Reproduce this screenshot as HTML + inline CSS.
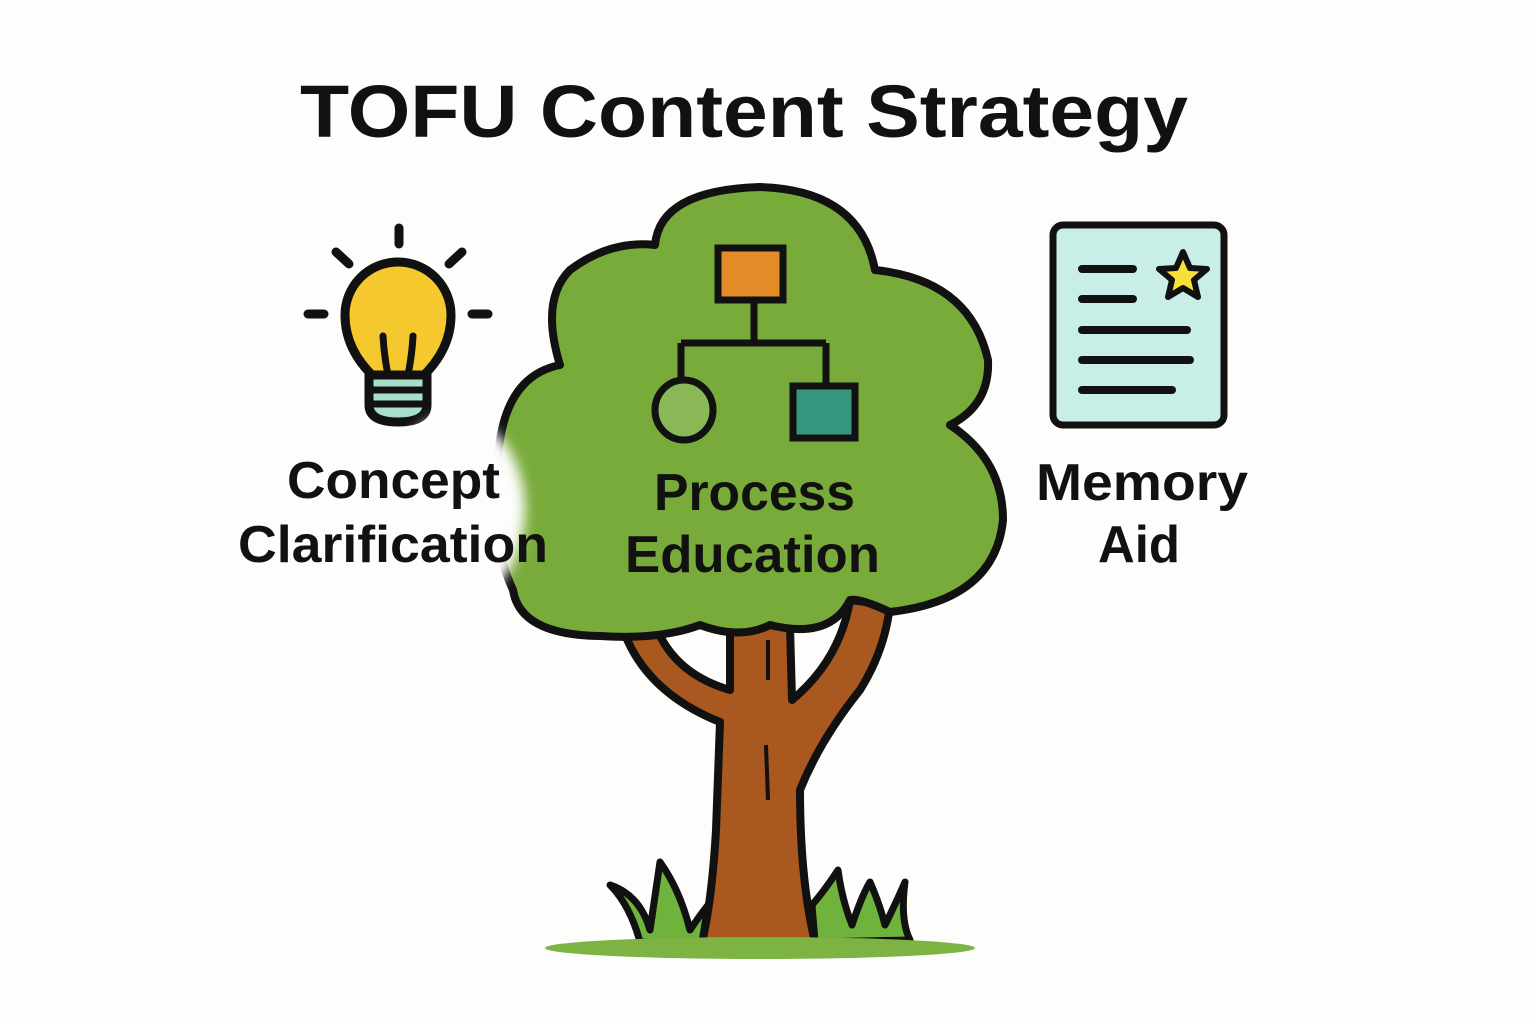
<!DOCTYPE html>
<html><head><meta charset="utf-8"><style>
html,body{margin:0;padding:0;background:#fdfdfb;}
svg{display:block;font-family:"Liberation Sans",sans-serif;font-weight:bold;}
</style></head><body>
<svg width="1536" height="1024" viewBox="0 0 1536 1024">
<defs><filter id="b"><feGaussianBlur stdDeviation="6"/></filter></defs>
<rect width="1536" height="1024" fill="#fdfdfb"/>
<text x="300" y="137" font-size="74" textLength="888" lengthAdjust="spacingAndGlyphs" fill="#111">TOFU Content Strategy</text>

<!-- bulb -->
<g stroke="#111" stroke-width="9" stroke-linecap="round" fill="none">
<line x1="399" y1="228" x2="399" y2="244"/>
<line x1="336" y1="252" x2="349" y2="264"/>
<line x1="462" y1="252" x2="449" y2="264"/>
<line x1="308" y1="314" x2="324" y2="314"/>
<line x1="472" y1="314" x2="488" y2="314"/>
</g>
<path d="M375,378 Q345,350 345,315 A53,53 0 1 1 451,315 Q451,350 421,378 Z" fill="#f5c82e" stroke="#111" stroke-width="9" stroke-linejoin="round"/>
<path d="M369,375 L427,375 L427,405 Q427,422 398,422 Q369,422 369,405 Z" fill="#a8dfc8" stroke="#111" stroke-width="9" stroke-linejoin="round"/>
<g stroke="#111" stroke-width="7" stroke-linecap="round" fill="none">
<line x1="372" y1="390" x2="424" y2="390"/><line x1="372" y1="404" x2="424" y2="404"/>
<path d="M388,375 Q384,355 383,336"/><path d="M408,375 Q412,355 413,336"/>
</g>

<!-- trunk -->
<path d="M620,620 Q640,690 720,722 L716,830 Q712,900 702,942 L815,942 Q800,880 800,790 Q820,740 860,690 Q885,650 890,605 L850,600 Q840,660 792,700 L790,625 L730,625 L730,690 Q668,672 652,615 Z" fill="#a9581f" stroke="#111" stroke-width="8" stroke-linejoin="round"/>
<path d="M768,640 L768,680 M766,745 L768,800" stroke="#111" stroke-width="4"/>

<!-- crown -->
<path d="M655,245 Q660,190 760,187 Q860,190 875,270 Q970,280 988,360 Q990,405 950,425 Q1003,460 1003,520 Q995,600 890,612 Q860,598 850,600 Q830,640 770,625 Q740,640 700,625 Q660,640 600,636 Q520,635 513,590 Q485,530 500,440 Q510,375 560,365 Q540,300 570,270 Q610,240 655,245 Z" fill="#79ab3b" stroke="#111" stroke-width="8" stroke-linejoin="round"/>
<ellipse cx="455" cy="510" rx="70" ry="95" fill="#fdfdfb" filter="url(#b)"/>

<!-- hierarchy -->
<g stroke="#111" stroke-width="7" fill="none">
<path d="M754,300 L754,343 M681,343 L826,343 M681,343 L681,382 M826,343 L826,387"/>
</g>
<rect x="718" y="248" width="65" height="52" fill="#e38b26" stroke="#111" stroke-width="7"/>
<ellipse cx="684" cy="410" rx="29" ry="30" fill="#8ab856" stroke="#111" stroke-width="7"/>
<rect x="793" y="386" width="62" height="52" fill="#36977f" stroke="#111" stroke-width="7"/>

<!-- grass -->
<g fill="#6fb23c" stroke="#111" stroke-width="7" stroke-linejoin="round">
<path d="M610,885 Q640,895 650,930 Q655,895 660,862 Q680,890 690,930 Q700,915 708,905 L702,942 L640,942 Q630,905 610,885 Z"/>
<path d="M815,942 L812,905 Q825,890 838,870 Q842,900 852,925 Q862,895 870,882 Q880,905 885,925 Q895,905 905,882 Q900,920 910,940 L815,942 Z"/>
</g>
<ellipse cx="760" cy="948" rx="215" ry="11" fill="#7cb342"/>

<!-- document -->
<rect x="1053" y="225" width="171" height="200" rx="10" fill="#c9eee8" stroke="#111" stroke-width="7"/>
<g stroke="#111" stroke-width="8" stroke-linecap="round">
<line x1="1082" y1="269" x2="1133" y2="269"/><line x1="1082" y1="299" x2="1133" y2="299"/>
<line x1="1082" y1="330" x2="1187" y2="330"/><line x1="1082" y1="360" x2="1190" y2="360"/><line x1="1082" y1="390" x2="1172" y2="390"/>
</g>
<polygon points="1183,252 1190,268 1207,269 1194,280 1198,297 1183,288 1168,297 1172,280 1159,269 1176,268" fill="#f7e03a" stroke="#111" stroke-width="6" stroke-linejoin="round"/>

<!-- labels -->
<g fill="#111" font-size="52">
<text x="287" y="498" textLength="213" lengthAdjust="spacingAndGlyphs">Concept</text>
<text x="238" y="562" textLength="310" lengthAdjust="spacingAndGlyphs">Clarification</text>
<text x="654" y="510" textLength="201" lengthAdjust="spacingAndGlyphs">Process</text>
<text x="625" y="572" textLength="255" lengthAdjust="spacingAndGlyphs">Education</text>
<text x="1036" y="500" textLength="212" lengthAdjust="spacingAndGlyphs">Memory</text>
<text x="1098" y="562" textLength="82" lengthAdjust="spacingAndGlyphs">Aid</text>
</g>
</svg>
</body></html>
